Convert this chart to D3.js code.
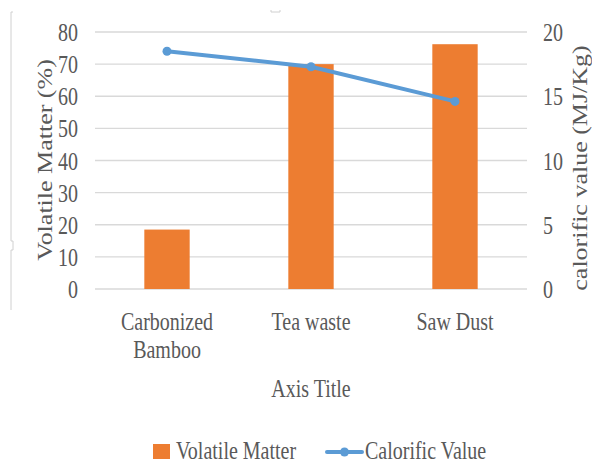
<!DOCTYPE html>
<html>
<head>
<meta charset="utf-8">
<script src="https://cdn.jsdelivr.net/npm/d3@7"></script>
<style>
  html, body { margin: 0; padding: 0; background: #fff; }
  svg { display: block; }
  text { font-family: "Liberation Serif", "Times New Roman", serif; fill: #595959; }
</style>
</head>
<body>
<script>
// Fuel samples: volatile matter (bars, left axis) and calorific value (line, right axis)
const categories = [["Carbonized", "Bamboo"], ["Tea waste"], ["Saw Dust"]];
const volatileMatter = [18.5, 70.0, 76.2];
const calorificValue = [18.5, 17.3, 14.6];
const leftTicks = [0, 10, 20, 30, 40, 50, 60, 70, 80];
const rightTicks = [0, 5, 10, 15, 20];
const seriesNames = ["Volatile Matter", "Calorific Value"];
const axisTitles = { left: "Volatile Matter (%)", right: "calorific value (MJ/Kg)", bottom: "Axis Title" };

const W = 592, H = 475;
const plot = { left: 95, right: 527, top: 32, bottom: 289 };
const barColor = "#ED7D31", lineColor = "#5B9BD5", gridColor = "#d9d9d9";
const sx = 0.8; // glyphs are set narrow
const fs = 25;

const svg = d3.select("body").append("svg").attr("width", W).attr("height", H);

// faint chart-frame edge and handle
svg.append("path")
  .attr("d", "M11,12 V241 H13 V250 H11 V310")
  .attr("fill", "none").attr("stroke", "#d0d0d0").attr("stroke-width", 1);
svg.append("path")
  .attr("d", "M11,12 H13")
  .attr("fill", "none").attr("stroke", "#d0d0d0").attr("stroke-width", 1);
svg.append("path")
  .attr("d", "M271,10 V12 H280 V10")
  .attr("fill", "none").attr("stroke", "#d0d0d0").attr("stroke-width", 1);

const x = d3.scaleBand().domain(d3.range(categories.length)).range([plot.left, plot.right]).padding(0);
const yL = d3.scaleLinear().domain([0, 80]).range([plot.bottom, plot.top]);
const yR = d3.scaleLinear().domain([0, 20]).range([plot.bottom, plot.top]);

// gridlines
svg.append("g").selectAll("line").data(leftTicks).join("line")
  .attr("x1", plot.left).attr("x2", plot.right)
  .attr("y1", d => yL(d)).attr("y2", d => yL(d))
  .attr("stroke", gridColor).attr("stroke-width", 1.3);

// left axis
const gL = svg.append("g").attr("transform", `translate(${plot.left},0)`)
  .call(d3.axisLeft(yL).tickValues(leftTicks).tickSize(0).tickFormat(d3.format("d")));
gL.select(".domain").remove();
gL.selectAll("text").attr("x", 0).attr("dy", "0.34em")
  .attr("transform", `translate(-17,0) scale(${sx},1)`)
  .style("font-size", fs + "px").style("font-family", "Liberation Serif").attr("fill", "#595959");

// right axis
const gR = svg.append("g").attr("transform", `translate(${plot.right},0)`)
  .call(d3.axisRight(yR).tickValues(rightTicks).tickSize(0).tickFormat(d3.format("d")));
gR.select(".domain").remove();
gR.selectAll("text").attr("x", 0).attr("dy", "0.34em")
  .attr("transform", `translate(16,0) scale(${sx},1)`)
  .style("font-size", fs + "px").style("font-family", "Liberation Serif").attr("fill", "#595959");

// bars
const barW = x.bandwidth() * 0.315;
svg.append("g").selectAll("rect").data(volatileMatter).join("rect")
  .attr("x", (d, i) => x(i) + x.bandwidth() / 2 - barW / 2)
  .attr("width", barW)
  .attr("y", d => yL(d))
  .attr("height", d => yL(0) - yL(d))
  .attr("fill", barColor);

// line series
const line = d3.line().x((d, i) => x(i) + x.bandwidth() / 2).y(d => yR(d));
svg.append("path").datum(calorificValue)
  .attr("d", line).attr("fill", "none")
  .attr("stroke", lineColor).attr("stroke-width", 4).attr("stroke-linecap", "round");
svg.append("g").selectAll("circle").data(calorificValue).join("circle")
  .attr("cx", (d, i) => x(i) + x.bandwidth() / 2).attr("cy", d => yR(d))
  .attr("r", 4.5).attr("fill", lineColor);

// category labels
const cat = svg.append("g").selectAll("text").data(categories).join("text")
  .attr("transform", (d, i) => `translate(${x(i) + x.bandwidth() / 2},330) scale(${sx},1)`)
  .attr("text-anchor", "middle").style("font-size", fs + "px");
cat.selectAll("tspan").data(d => d).join("tspan")
  .attr("x", 0).attr("dy", (d, i) => i === 0 ? 0 : 28).text(d => d);

// axis titles
svg.append("text")
  .attr("transform", `translate(${(plot.left + plot.right) / 2},397) scale(${sx},1)`)
  .attr("text-anchor", "middle").style("font-size", fs + "px").text(axisTitles.bottom);
svg.append("text")
  .attr("transform", `translate(52,160) scale(${sx},1) rotate(-90)`)
  .attr("text-anchor", "middle").style("font-size", "26px").text(axisTitles.left);
svg.append("text")
  .attr("transform", `translate(587,168) scale(${sx},1) rotate(-90)`)
  .attr("text-anchor", "middle").style("font-size", "26px").text(axisTitles.right);

// legend
const lg = svg.append("g");
lg.append("rect").attr("x", 153).attr("y", 444).attr("width", 17).attr("height", 15).attr("fill", barColor);
lg.append("text").attr("transform", `translate(176,459) scale(${sx},1)`)
  .style("font-size", fs + "px").text(seriesNames[0]);
lg.append("line").attr("x1", 327).attr("x2", 362).attr("y1", 452).attr("y2", 452)
  .attr("stroke", lineColor).attr("stroke-width", 4).attr("stroke-linecap", "round");
lg.append("circle").attr("cx", 344.5).attr("cy", 452).attr("r", 4.5).attr("fill", lineColor);
lg.append("text").attr("transform", `translate(365,459) scale(${sx},1)`)
  .style("font-size", fs + "px").text(seriesNames[1]);
</script>
</body>
</html>
